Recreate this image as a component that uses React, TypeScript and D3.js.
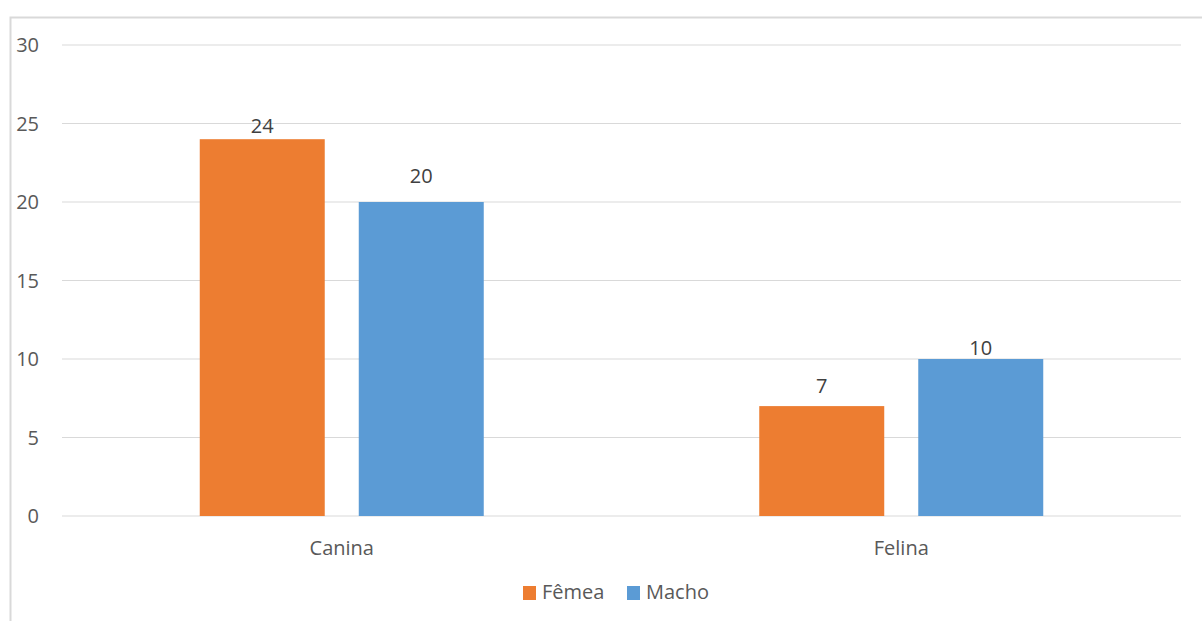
import React from "react";
import * as d3 from "d3";

const categories = ["Canina", "Felina"];
const seriesNames = ["Fêmea", "Macho"];
const femea = [24, 7];
const macho = [20, 10];
const yTicks = [0, 5, 10, 15, 20, 25, 30];
const colors = ["#ED7D31", "#5B9BD5"];

// label gap above each bar top (series x category), layout only
const labelLift = [
  [13, 20],
  [26, 11],
];

const W = 1202;
const H = 621;
const font = "'Open Sans', 'DejaVu Sans', sans-serif";

export default function App() {
  const left = 62, right = 1181, top = 45, bottom = 516;
  const y = d3.scaleLinear().domain([0, 30]).range([bottom, top]);
  const x0 = d3.scaleBand().domain(categories).range([left, right]).paddingInner(0).paddingOuter(0);
  const catW = x0.bandwidth();
  const barW = catW * 0.2234;
  const gap = catW * 0.0608;
  const series = [femea, macho];

  return (
    <svg width={W} height={H} style={{ position: "absolute", left: 0, top: 0, background: "#fff" }}>
      <rect x={10.5} y={17.5} width={W + 10} height={H + 10} fill="none" stroke="#d9d9d9" strokeWidth={2} />
      {yTicks.map((t) => (
        <g key={t}>
          <line x1={left} x2={right} y1={y(t)} y2={y(t)} stroke="#d9d9d9" strokeWidth={1} />
          <text x={39} y={y(t)} dy="0.36em" textAnchor="end" fontFamily={font} fontSize={20} fill="#595959">
            {t}
          </text>
        </g>
      ))}
      {categories.map((c, ci) => {
        const center = (x0(c) as number) + catW / 2;
        return (
          <g key={c}>
            {series.map((s, si) => {
              const bx = si === 0 ? center - gap / 2 - barW : center + gap / 2;
              return (
                <g key={si}>
                  <rect x={bx} y={y(s[ci])} width={barW} height={y(0) - y(s[ci])} fill={colors[si]} />
                  <text x={bx + barW / 2} y={y(s[ci]) - labelLift[si][ci]} dy="0.36em" textAnchor="middle" fontFamily={font} fontSize={20} fill="#404040">
                    {s[ci]}
                  </text>
                </g>
              );
            })}
            <text x={center} y={548} dy="0.36em" textAnchor="middle" fontFamily={font} fontSize={20} fill="#595959">
              {c}
            </text>
          </g>
        );
      })}
      {seriesNames.map((n, i) => {
        const lx = i === 0 ? 523 : 627;
        return (
          <g key={n}>
            <rect x={lx} y={586} width={13} height={14} fill={colors[i]} />
            <text x={lx + 19} y={592} dy="0.36em" fontFamily={font} fontSize={20} fill="#595959">
              {n}
            </text>
          </g>
        );
      })}
    </svg>
  );
}
